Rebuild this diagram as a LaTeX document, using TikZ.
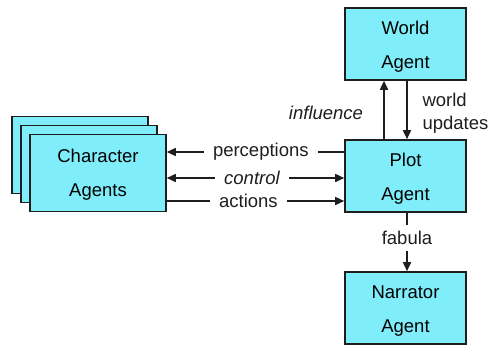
\documentclass[tikz,border=0pt]{standalone}
\usepackage{fontspec}
\setmainfont{Liberation Sans}
\usetikzlibrary{arrows.meta}
\definecolor{agentfill}{RGB}{128,238,250}
\definecolor{inkdark}{RGB}{30,30,30}
% extra room above the first line of a box label
\newcommand{\boxstrut}{\rule{0pt}{19.5pt}}
\begin{document}
\begin{tikzpicture}[x=1pt,y=-1pt,
  font=\fontsize{18.5}{34}\selectfont,
  agentbox/.style={draw=inkdark,fill=agentfill,line width=1.6pt,
    minimum width=121pt,minimum height=72pt,inner sep=0pt,align=center},
  charbox/.style={agentbox,minimum width=136pt,minimum height=77pt},
  link/.style={draw=inkdark,line width=1.6pt},
  tip/.style={-{Triangle[length=9pt,width=8pt]}},
  lbl/.style={fill=white,inner xsep=9pt,inner ysep=1pt,text=inkdark}]
\useasboundingbox (0,0) rectangle (489,345);

% agent boxes
\node[agentbox] (world) at (405.5,44) {\boxstrut World\\Agent};
\node[agentbox] (plot) at (405.5,176) {\boxstrut Plot\\Agent};
\node[agentbox] (narrator) at (405.5,308) {\boxstrut Narrator\\Agent};

% stacked character agents
\node[charbox] (charback) at (80,155) {};
\node[charbox] (charmid) at (89,164) {};
\node[charbox] (char) at (98,173) {\rule{0pt}{16pt}Character\\Agents};

% plot <-> world
\draw[link,tip] ([xshift=-21.5pt]plot.north) -- ([xshift=-21.5pt]world.south);
\draw[link,tip] ([xshift=1.5pt]world.south) -- ([xshift=1.5pt]plot.north);
\node[text=inkdark,font=\fontsize{18.5}{22}\selectfont\itshape] (influence) at (326,113) {influence};
\node[text=inkdark,align=left,anchor=west,font=\fontsize{18.5}{23}\selectfont] (updates) at (419,113) {world\\updates};

% plot -> narrator
\draw[link,tip] ([xshift=1.5pt]plot.south) -- node[lbl,pos=0.43,inner xsep=2pt,inner ysep=6pt] (fabula) {fabula} ([xshift=1.5pt]narrator.north);

% plot <-> characters
\draw[link,tip] ([yshift=24pt]plot.west) -- node[lbl,pos=0.47] (perc) {perceptions} ([yshift=21pt]char.east);
\draw[link,{Triangle[length=9pt,width=8pt]}-{Triangle[length=9pt,width=8pt]}] ([yshift=-5pt]char.east) -- node[lbl,pos=0.48,font=\fontsize{18.5}{22}\selectfont\itshape] (ctrl) {control} ([yshift=-2pt]plot.west);
\draw[link,tip] ([yshift=-28pt]char.east) -- node[lbl,pos=0.46] (act) {actions} ([yshift=-25pt]plot.west);
\end{tikzpicture}
\end{document}
